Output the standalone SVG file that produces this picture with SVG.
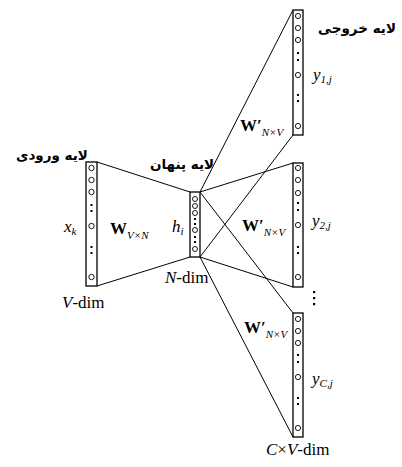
<svg xmlns="http://www.w3.org/2000/svg" width="402" height="467" viewBox="0 0 402 467">
<defs>
<style>
.col{fill:#fff;stroke:#000;stroke-width:1.3}
.n{fill:#fff;stroke:#000;stroke-width:0.9}
.d{fill:#000}
.ln{stroke:#000;stroke-width:1;fill:none}
.fa{font-family:'DejaVu Sans',sans-serif;font-weight:bold;font-size:13.5px;fill:#000}
.lt{font-family:'Liberation Serif','DejaVu Serif',serif;font-size:17px;fill:#000}
.it{font-style:italic}
.W{font-family:'Liberation Serif','DejaVu Serif',serif;font-weight:bold;font-size:17px}
.sub{font-family:'Liberation Serif','DejaVu Serif',serif;font-style:italic;font-size:11px}
</style>
</defs>
<rect width="402" height="467" fill="#fff"/>
<g id="connectors">
<line class="ln" x1="97" y1="162" x2="190" y2="192"/>
<line class="ln" x1="97" y1="286" x2="190" y2="257"/>
<line class="ln" x1="200" y1="192" x2="293" y2="10"/>
<line class="ln" x1="200" y1="192" x2="293" y2="163"/>
<line class="ln" x1="200" y1="192" x2="293" y2="313"/>
<line class="ln" x1="200" y1="257" x2="293" y2="135"/>
<line class="ln" x1="200" y1="257" x2="293" y2="287"/>
<line class="ln" x1="200" y1="257" x2="293" y2="437"/>
</g>
<g id="input">
<rect class="col" x="86" y="162" width="11" height="124"/>
<circle class="n" cx="91.5" cy="168" r="2.7"/>
<circle class="n" cx="91.5" cy="180" r="2.7"/>
<circle class="n" cx="91.5" cy="192" r="2.7"/>
<rect class="d" x="90.5" y="204" width="2" height="2"/>
<rect class="d" x="90.5" y="210" width="2" height="2"/>
<circle class="n" cx="91.5" cy="226" r="2.7"/>
<rect class="d" x="90.5" y="246" width="2" height="2"/>
<rect class="d" x="90.5" y="252" width="2" height="2"/>
<circle class="n" cx="91.5" cy="277" r="2.7"/>
<text class="fa" x="52" y="160" text-anchor="middle">لایه ورودی</text>
<text class="lt it" x="64" y="232">x<tspan class="sub" dy="3">k</tspan></text>
<text x="62" y="308" class="lt"><tspan class="it">V</tspan>-dim</text>
<text x="110" y="234"><tspan class="W">W</tspan><tspan class="sub" dy="5">V×N</tspan></text>
</g>
<g id="hidden">
<rect class="col" x="190" y="192" width="10" height="65"/>
<circle class="n" cx="195" cy="199" r="2.5"/>
<circle class="n" cx="195" cy="206" r="2.5"/>
<circle class="n" cx="195" cy="213" r="2.5"/>
<rect class="d" x="194" y="218" width="2" height="2"/>
<rect class="d" x="194" y="223" width="2" height="2"/>
<circle class="n" cx="195" cy="230" r="2.5"/>
<rect class="d" x="194" y="236" width="2" height="2"/>
<rect class="d" x="194" y="241" width="2" height="2"/>
<circle class="n" cx="195" cy="249" r="2.5"/>
<text class="fa" x="182" y="169" text-anchor="middle">لایه پنهان</text>
<text class="lt it" x="172" y="232">h<tspan class="sub" dy="3">i</tspan></text>
<text x="165" y="283" class="lt"><tspan class="it">N</tspan>-dim</text>
</g>
<g id="output1">
<rect class="col" x="293" y="10" width="10" height="125"/>
<circle class="n" cx="298" cy="16" r="2.6"/>
<circle class="n" cx="298" cy="28" r="2.6"/>
<circle class="n" cx="298" cy="40" r="2.6"/>
<rect class="d" x="297" y="52" width="2" height="2"/>
<rect class="d" x="297" y="59" width="2" height="2"/>
<circle class="n" cx="298" cy="75" r="2.6"/>
<rect class="d" x="297" y="94" width="2" height="2"/>
<rect class="d" x="297" y="100" width="2" height="2"/>
<circle class="n" cx="298" cy="126" r="2.6"/>
<text class="fa" x="357" y="33" text-anchor="middle">لایه خروجی</text>
<text class="lt it" x="313" y="80">y<tspan class="sub" dy="3">1,j</tspan></text>
<text x="240" y="131"><tspan class="W">W</tspan><tspan class="lt" font-weight="bold">′</tspan><tspan class="sub" dy="5">N×V</tspan></text>
</g>
<g id="output2">
<rect class="col" x="293" y="163" width="10" height="124"/>
<circle class="n" cx="298" cy="168" r="2.6"/>
<circle class="n" cx="298" cy="180" r="2.6"/>
<circle class="n" cx="298" cy="193" r="2.6"/>
<rect class="d" x="297" y="202" width="2" height="2"/>
<rect class="d" x="297" y="209" width="2" height="2"/>
<circle class="n" cx="298" cy="225" r="2.6"/>
<rect class="d" x="297" y="246" width="2" height="2"/>
<rect class="d" x="297" y="252" width="2" height="2"/>
<circle class="n" cx="298" cy="277" r="2.6"/>
<text class="lt it" x="312" y="226">y<tspan class="sub" dy="3">2,j</tspan></text>
<text x="242" y="231"><tspan class="W">W</tspan><tspan class="lt" font-weight="bold">′</tspan><tspan class="sub" dy="5">N×V</tspan></text>
<rect class="d" x="313" y="291" width="2.2" height="2.2"/>
<rect class="d" x="313" y="297" width="2.2" height="2.2"/>
<rect class="d" x="313" y="303" width="2.2" height="2.2"/>
</g>
<g id="output3">
<rect class="col" x="293" y="313" width="10" height="124"/>
<circle class="n" cx="298" cy="319" r="2.6"/>
<circle class="n" cx="298" cy="331" r="2.6"/>
<circle class="n" cx="298" cy="343" r="2.6"/>
<rect class="d" x="297" y="354" width="2" height="2"/>
<rect class="d" x="297" y="361" width="2" height="2"/>
<circle class="n" cx="298" cy="377" r="2.6"/>
<rect class="d" x="297" y="397" width="2" height="2"/>
<rect class="d" x="297" y="403" width="2" height="2"/>
<circle class="n" cx="298" cy="428" r="2.6"/>
<text class="lt it" x="312" y="384">y<tspan class="sub" dy="3">C,j</tspan></text>
<text x="244" y="333"><tspan class="W">W</tspan><tspan class="lt" font-weight="bold">′</tspan><tspan class="sub" dy="5">N×V</tspan></text>
<text x="266" y="455" class="lt"><tspan class="it">C</tspan>×<tspan class="it">V</tspan>-dim</text>
</g>
</svg>
